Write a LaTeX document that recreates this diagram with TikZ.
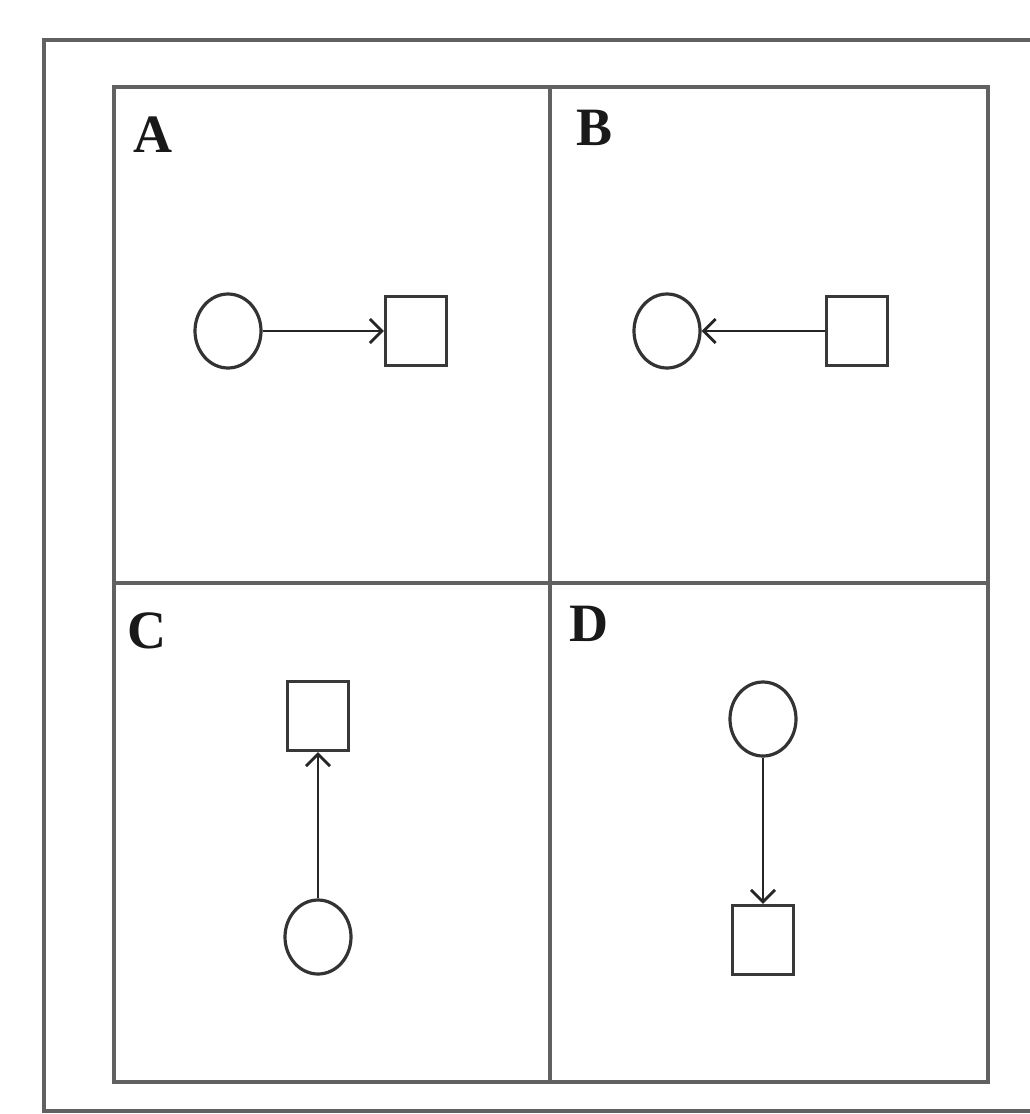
\documentclass[tikz,border=0pt]{standalone}
\usepackage{fontspec}
\setmainfont{Liberation Serif}
\usetikzlibrary{shapes.geometric,arrows.meta}
\tikzset{
  frameline/.style={draw=black!62, line width=4pt},
  circ/.style={ellipse, draw=black!80, line width=3.2pt, minimum width=66pt, minimum height=74pt, inner sep=0pt},
  sq/.style={rectangle, draw=black!78, line width=3.2pt, minimum width=61pt, minimum height=69pt, inner sep=0pt},
  conn/.style={draw=black!85, line width=2.8pt, -{Straight Barb[length=12pt,width=24pt,line width=2.8pt]}},
  lab/.style={font=\fontsize{54}{58}\selectfont\bfseries, text=black!90, inner sep=0pt}
}
\begin{document}
\begin{tikzpicture}[x=1pt,y=-1pt]
\useasboundingbox (0,0) rectangle (1030,1114);
\clip (0,0) rectangle (1030,1114);
\fill[white] (0,0) rectangle (1030,1114);
% outer frame
\draw[frameline] (44,40) rectangle (1045,1111);
% inner grid
\draw[frameline] (114,87) rectangle (988,1082);
\draw[frameline] (550,87) -- (550,1082);
\draw[frameline] (114,583) -- (988,583);
% labels
\node[lab] (la) at (153,135) {A};
\node[lab] (lb) at (595,128) {B};
\node[lab] (lc) at (147,631) {C};
\node[lab] (ld) at (589,624) {D};
% panel A
\node[circ] (ca) at (228,331) {};
\node[sq] (sa) at (416,331) {};
\draw[conn] (ca) -- (sa);
% panel B
\node[circ] (cb) at (667,331) {};
\node[sq] (sb) at (857,331) {};
\draw[conn] (sb) -- (cb);
% panel C
\node[sq] (sc) at (318,716) {};
\node[circ] (cc) at (318,937) {};
\draw[conn] (cc) -- (sc);
% panel D
\node[circ] (cd) at (763,719) {};
\node[sq] (sd) at (763,940) {};
\draw[conn] (cd) -- (sd);
\end{tikzpicture}
\end{document}
